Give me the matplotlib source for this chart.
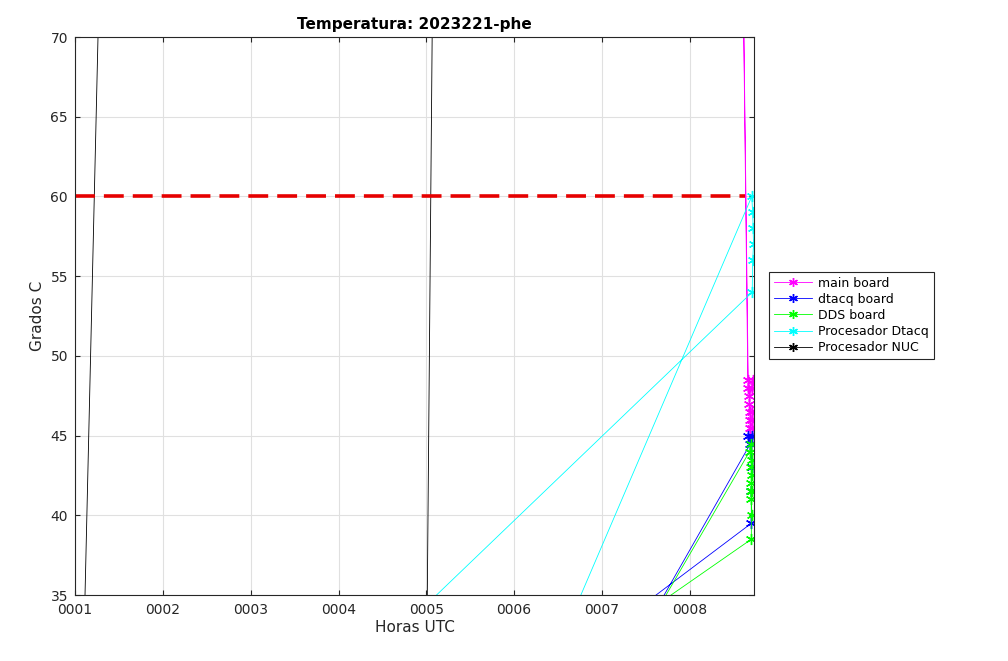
import numpy as np
import matplotlib
matplotlib.use("Agg")
import matplotlib.pyplot as plt

nan = np.nan

# horas (formato HHMM como numero) y temperaturas por sensor
t_main = [8.66, 8.56, 8.665, 8.715, 8.67, 8.705, 8.675, 8.71, 8.68, 8.705, 8.685, 8.71, 8.69]
T_main = [48.5, 95.0, 48.0, 48.5, 47.5, 48.0, 47.0, 46.5, 46.5, 46.0, 46.0, 45.5, 45.5]

t_dtacq = [7.19, 8.69, 8.665, 8.71, 8.70, 8.705, 8.70, 8.70, 6.41]
T_dtacq = [30.0, 44.5, 45.0, 45.0, 44.5, 43.0, 41.5, 39.5, 30.0]

t_dds = [7.20, 8.68, 8.70, 8.71, 8.70, 8.705, 8.70, 8.71, 8.70, 8.705, 8.70, 8.70, 6.48]
T_dds = [30.0, 44.0, 44.5, 43.5, 43.0, 42.5, 42.0, 41.5, 41.0, 40.0, 41.5, 38.5, 30.0]

t_dtacq_cpu = [6.37, 8.705, 8.715, 8.72, 8.725, 8.715, 8.71, 4.17]
T_dtacq_cpu = [30.0, 60.0, 59.0, 58.0, 57.0, 56.0, 54.0, 30.0]

t_nuc = [1.093, 1.283, nan, 5.003, 5.074]
T_nuc = [30.0, 75.0, nan, 30.0, 75.0]

limite = 60
horas = [1, 2, 3, 4, 5, 6, 7, 8]

fig = plt.figure(figsize=(10.08, 6.61), dpi=100)
ax = fig.add_axes([0.0744, 0.0998, 0.6736, 0.8442])

mk = (6, 2, 0)
ax.plot(t_main, T_main, color=(1, 0, 1), marker=mk, ms=8, lw=0.6, label="main board")
ax.plot(t_dtacq, T_dtacq, color=(0, 0, 1), marker=mk, ms=8, lw=0.6, label="dtacq board")
ax.plot(t_dds, T_dds, color=(0, 1, 0), marker=mk, ms=8, lw=0.6, label="DDS board")
ax.plot(t_dtacq_cpu, T_dtacq_cpu, color=(0, 1, 1), marker=mk, ms=8, lw=0.6, label="Procesador Dtacq")
ax.plot(t_nuc, T_nuc, color="k", marker=mk, ms=8, lw=0.6, label="Procesador NUC")

ax.plot([1, 8.63], [limite, limite], color=(0.9, 0, 0), lw=2.6, dashes=(5.5, 2.5))

ax.set_xlim(1, 8.73)
ax.set_ylim(35, 70)
ax.set_xticks(horas)
ax.set_xticklabels(["%04d" % h for h in horas])
ax.set_yticks(np.arange(35, 71, 5))
ax.grid(True, color=(0.88, 0.88, 0.88), lw=0.8)
ax.set_axisbelow(True)
ax.tick_params(direction="in", top=True, right=True, labelsize=10, colors=(0.15, 0.15, 0.15))
ax.tick_params(axis="x", pad=6)
ax.tick_params(axis="y", pad=5)
for s in ax.spines.values():
    s.set_color((0.15, 0.15, 0.15))
    s.set_linewidth(0.8)

ax.set_title("Temperatura: 2023221-phe", fontsize=11, fontweight="bold", pad=6)
ax.set_xlabel("Horas UTC", fontsize=11, color=(0.15, 0.15, 0.15), labelpad=2)
ax.set_ylabel("Grados C", fontsize=11, color=(0.15, 0.15, 0.15))

leg = fig.legend(*ax.get_legend_handles_labels(), loc="center left",
                 bbox_to_anchor=(0.757, 0.523), fontsize=9, fancybox=False,
                 edgecolor=(0.15, 0.15, 0.15), framealpha=1, handlelength=3,
                 borderpad=0.4, labelspacing=0.25, handletextpad=0.5, markerscale=0.8)
leg.get_frame().set_linewidth(0.8)

fig.savefig("out.png", dpi=100)
